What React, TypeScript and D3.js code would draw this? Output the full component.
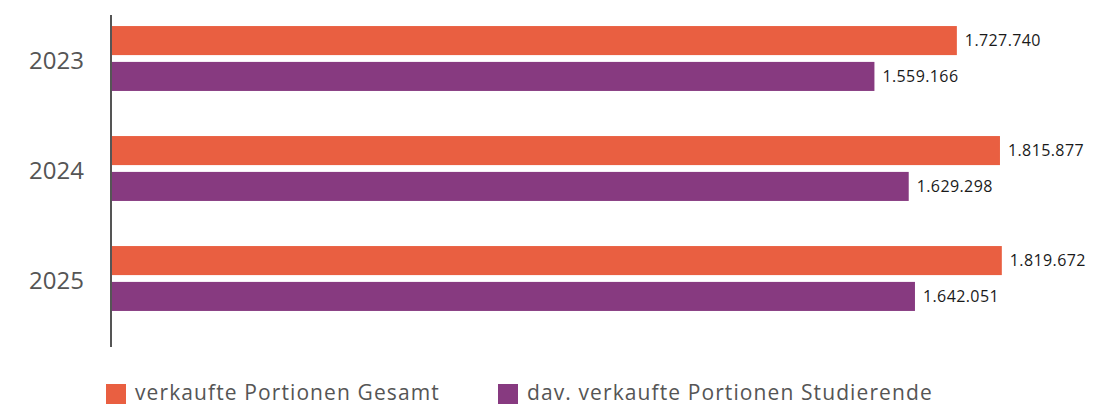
import { useEffect, useRef } from "react";
import * as d3 from "d3";

const years = ["2023", "2024", "2025"];
const seriesNames = ["verkaufte Portionen Gesamt", "dav. verkaufte Portionen Studierende"];
const totalPortions = [1727740, 1815877, 1819672];
const studentPortions = [1559166, 1629298, 1642051];
const seriesColors = ["#E95F41", "#873A80"];

const App = () => {
    const chartRef = useRef<SVGSVGElement | null>(null);

    useEffect(() => {
        if (!chartRef.current) return;

        // Clear previous chart
        d3.select(chartRef.current).selectAll("*").remove();

        const width = 1110;
        const height = 405;
        const axisX = 111;
        const font = "'Open Sans', sans-serif";

        const svg = d3
            .select(chartRef.current)
            .attr("width", width)
            .attr("height", height);

        const rows = years.map((y, i) => ({
            year: y,
            values: [totalPortions[i], studentPortions[i]],
        }));

        const xScale = d3.scaleLinear().domain([0, 2000000]).range([axisX + 1, axisX + 1 + 978]);

        const yScale = d3
            .scaleBand()
            .domain(years)
            .range([3.5, 333.5])
            .paddingInner(0.41)
            .paddingOuter(0.205);

        const subScale = d3
            .scaleBand()
            .domain(["0", "1"])
            .range([0, yScale.bandwidth()])
            .paddingInner(0.19)
            .paddingOuter(0);

        const fmt = (v: number) => d3.format(",")(v).replace(/,/g, ".");

        const groups = svg
            .selectAll("g.year")
            .data(rows)
            .enter()
            .append("g")
            .attr("class", "year")
            .attr("transform", (d) => `translate(0, ${yScale(d.year)})`);

        groups
            .selectAll("rect")
            .data((d) => d.values)
            .enter()
            .append("rect")
            .attr("x", xScale(0))
            .attr("y", (_, i) => subScale(String(i))!)
            .attr("width", (d) => xScale(d) - xScale(0))
            .attr("height", subScale.bandwidth())
            .attr("fill", (_, i) => seriesColors[i]);

        // Value labels
        groups
            .selectAll("text.value")
            .data((d) => d.values)
            .enter()
            .append("text")
            .attr("class", "value")
            .attr("x", (d) => xScale(d) + 8)
            .attr("y", (_, i) => subScale(String(i))! + subScale.bandwidth() / 2)
            .attr("dy", "0.35em")
            .attr("font-family", font)
            .attr("font-size", 16)
            .attr("letter-spacing", 0.4)
            .attr("fill", "#1a1a1a")
            .text((d) => fmt(d));

        // Year labels
        svg.selectAll("text.year")
            .data(years)
            .enter()
            .append("text")
            .attr("class", "year")
            .attr("x", axisX - 27)
            .attr("y", (d) => yScale(d)! + yScale.bandwidth() / 2 + 2)
            .attr("dy", "0.35em")
            .attr("text-anchor", "end")
            .attr("font-family", font)
            .attr("font-size", 24)
            .attr("fill", "#555")
            .text((d) => d);

        // Y axis line
        svg.append("line")
            .attr("x1", axisX)
            .attr("x2", axisX)
            .attr("y1", 15)
            .attr("y2", 347)
            .attr("stroke", "#555")
            .attr("stroke-width", 2);

        // Legend
        const legendX = [106, 498];
        const legend = svg
            .selectAll("g.legend")
            .data(seriesNames)
            .enter()
            .append("g")
            .attr("class", "legend")
            .attr("transform", (_, i) => `translate(${legendX[i]}, 384)`);

        legend.append("rect")
            .attr("width", 20)
            .attr("height", 20)
            .attr("fill", (_, i) => seriesColors[i]);

        legend.append("text")
            .attr("x", 29)
            .attr("y", 9)
            .attr("dy", "0.35em")
            .attr("font-family", font)
            .attr("font-size", 21)
            .attr("letter-spacing", 1.1)
            .attr("fill", "#555")
            .text((d) => d);
    }, []);

    return (
        <div>
            <svg ref={chartRef} style={{ position: "absolute", left: 0, top: 0 }}></svg>
        </div>
    );
};

export default App;
